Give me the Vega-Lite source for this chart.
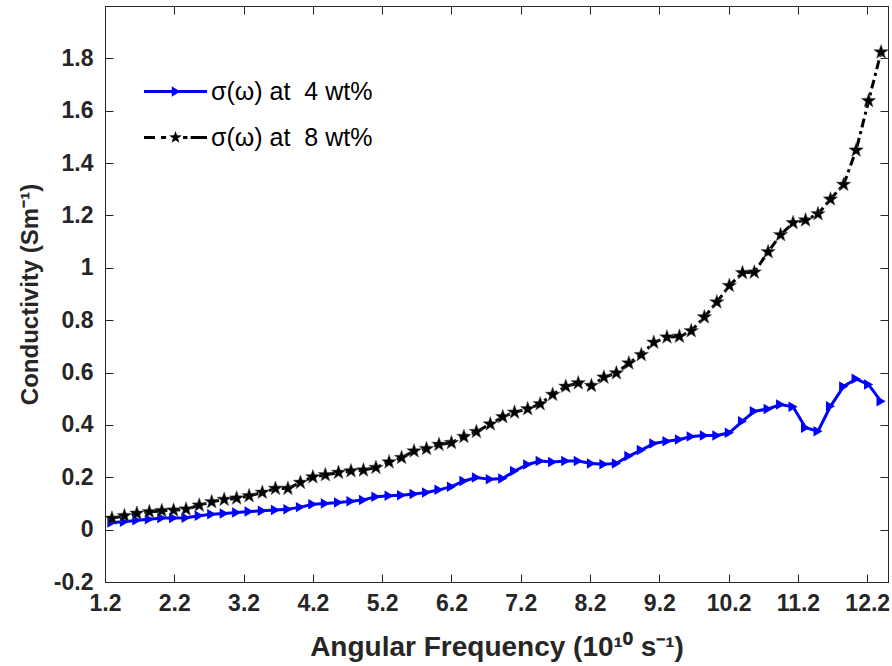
{
  "$schema": "https://vega.github.io/schema/vega-lite/v6.json",
  "autosize": "none",
  "width": 783,
  "height": 576,
  "padding": {"left": 105, "top": 6, "right": 4, "bottom": 84},
  "background": "white",
  "config": {
    "view": {"stroke": "#262626", "strokeWidth": 1},
    "axis": {
      "grid": false,
      "labelFont": "Liberation Sans",
      "labelFontWeight": "bold",
      "labelFontSize": 23,
      "labelColor": "#262626",
      "domainColor": "#262626",
      "tickColor": "#262626",
      "tickSize": -8,
      "labelFlush": false,
      "labelOverlap": false,
      "titleFont": "Liberation Sans",
      "titleFontWeight": "bold",
      "titleColor": "#262626"
    },
    "legend": {
      "orient": "none",
      "legendX": 38,
      "legendY": 53,
      "padding": 0,
      "rowPadding": 0,
      "symbolSize": 3969,
      "symbolOpacity": 1,
      "labelFont": "Liberation Sans",
      "labelFontSize": 25,
      "labelColor": "#000000",
      "labelOffset": 3,
      "labelLimit": 400
    }
  },
  "datasets": {
    "cond": [
      {"x": 1.30, "w4": 0.027, "w8": 0.043},
      {"x": 1.48, "w4": 0.030, "w8": 0.053},
      {"x": 1.66, "w4": 0.036, "w8": 0.062},
      {"x": 1.84, "w4": 0.040, "w8": 0.068},
      {"x": 2.02, "w4": 0.044, "w8": 0.072},
      {"x": 2.19, "w4": 0.044, "w8": 0.074},
      {"x": 2.37, "w4": 0.045, "w8": 0.078},
      {"x": 2.56, "w4": 0.053, "w8": 0.093},
      {"x": 2.74, "w4": 0.059, "w8": 0.106},
      {"x": 2.92, "w4": 0.062, "w8": 0.115},
      {"x": 3.10, "w4": 0.065, "w8": 0.120},
      {"x": 3.28, "w4": 0.069, "w8": 0.129},
      {"x": 3.47, "w4": 0.072, "w8": 0.142},
      {"x": 3.66, "w4": 0.075, "w8": 0.157},
      {"x": 3.84, "w4": 0.078, "w8": 0.157},
      {"x": 4.02, "w4": 0.086, "w8": 0.180},
      {"x": 4.20, "w4": 0.097, "w8": 0.201},
      {"x": 4.38, "w4": 0.100, "w8": 0.209},
      {"x": 4.57, "w4": 0.104, "w8": 0.218},
      {"x": 4.75, "w4": 0.108, "w8": 0.224},
      {"x": 4.93, "w4": 0.113, "w8": 0.227},
      {"x": 5.11, "w4": 0.126, "w8": 0.237},
      {"x": 5.30, "w4": 0.129, "w8": 0.258},
      {"x": 5.48, "w4": 0.131, "w8": 0.275},
      {"x": 5.66, "w4": 0.136, "w8": 0.300},
      {"x": 5.84, "w4": 0.142, "w8": 0.309},
      {"x": 6.02, "w4": 0.152, "w8": 0.325},
      {"x": 6.20, "w4": 0.164, "w8": 0.332},
      {"x": 6.38, "w4": 0.186, "w8": 0.355},
      {"x": 6.56, "w4": 0.199, "w8": 0.374},
      {"x": 6.76, "w4": 0.192, "w8": 0.403},
      {"x": 6.94, "w4": 0.195, "w8": 0.431},
      {"x": 7.11, "w4": 0.224, "w8": 0.448},
      {"x": 7.30, "w4": 0.249, "w8": 0.461},
      {"x": 7.48, "w4": 0.262, "w8": 0.480},
      {"x": 7.66, "w4": 0.258, "w8": 0.516},
      {"x": 7.85, "w4": 0.262, "w8": 0.547},
      {"x": 8.03, "w4": 0.262, "w8": 0.560},
      {"x": 8.22, "w4": 0.253, "w8": 0.550},
      {"x": 8.40, "w4": 0.250, "w8": 0.582},
      {"x": 8.58, "w4": 0.253, "w8": 0.598},
      {"x": 8.76, "w4": 0.281, "w8": 0.636},
      {"x": 8.94, "w4": 0.304, "w8": 0.668},
      {"x": 9.12, "w4": 0.329, "w8": 0.715},
      {"x": 9.31, "w4": 0.338, "w8": 0.735},
      {"x": 9.49, "w4": 0.344, "w8": 0.738},
      {"x": 9.66, "w4": 0.356, "w8": 0.759},
      {"x": 9.85, "w4": 0.360, "w8": 0.812},
      {"x": 10.03, "w4": 0.360, "w8": 0.869},
      {"x": 10.21, "w4": 0.370, "w8": 0.932},
      {"x": 10.40, "w4": 0.414, "w8": 0.981},
      {"x": 10.57, "w4": 0.452, "w8": 0.983},
      {"x": 10.77, "w4": 0.461, "w8": 1.061},
      {"x": 10.95, "w4": 0.478, "w8": 1.126},
      {"x": 11.13, "w4": 0.469, "w8": 1.172},
      {"x": 11.31, "w4": 0.389, "w8": 1.182},
      {"x": 11.49, "w4": 0.376, "w8": 1.206},
      {"x": 11.67, "w4": 0.471, "w8": 1.262},
      {"x": 11.86, "w4": 0.547, "w8": 1.318},
      {"x": 12.04, "w4": 0.576, "w8": 1.449},
      {"x": 12.22, "w4": 0.554, "w8": 1.638},
      {"x": 12.40, "w4": 0.490, "w8": 1.824}
    ],
    "series": [
      {"s": "σ(ω) at  4 wt%"},
      {"s": "σ(ω) at  8 wt%"}
    ]
  },
  "resolve": {"axis": {"x": "independent", "y": "independent"}},
  "layer": [
    {
      "data": {"name": "cond"},
      "mark": {"type": "line", "color": "#0000ff", "strokeWidth": 3},
      "encoding": {
        "x": {
          "field": "x", "type": "quantitative",
          "scale": {"domain": [1.2, 12.5], "nice": false, "zero": false},
          "axis": {
            "orient": "bottom",
            "values": [1.2, 2.2, 3.2, 4.2, 5.2, 6.2, 7.2, 8.2, 9.2, 10.2, 11.2, 12.2],
            "format": ".1f",
            "labelPadding": 18,
            "title": "Angular Frequency (10¹⁰ s⁻¹)",
            "titleFontSize": 28,
            "titlePadding": 18
          }
        },
        "y": {
          "field": "w4", "type": "quantitative",
          "scale": {"domain": [-0.2, 2.0], "nice": false, "zero": false},
          "axis": {
            "orient": "left",
            "values": [-0.2, 0, 0.2, 0.4, 0.6, 0.8, 1, 1.2, 1.4, 1.6, 1.8],
            "labelExpr": "'' + round(datum.value * 10) / 10",
            "labelPadding": 20,
            "title": "Conductivity  (Sm⁻¹)",
            "titleFontSize": 24,
            "titlePadding": 11
          }
        }
      }
    },
    {
      "data": {"name": "cond"},
      "mark": {"type": "point", "shape": "triangle-right", "filled": true, "color": "#0000ff", "size": 110, "opacity": 1},
      "encoding": {
        "x": {"field": "x", "type": "quantitative", "axis": null},
        "y": {"field": "w4", "type": "quantitative", "axis": null}
      }
    },
    {
      "data": {"name": "cond"},
      "mark": {"type": "line", "color": "#000000", "strokeWidth": 3, "strokeDash": [9, 4, 3, 4], "strokeCap": "butt"},
      "encoding": {
        "x": {
          "field": "x", "type": "quantitative",
          "axis": {
            "orient": "top",
            "values": [1.2, 2.2, 3.2, 4.2, 5.2, 6.2, 7.2, 8.2, 9.2, 10.2, 11.2, 12.2],
            "labels": false, "title": null
          }
        },
        "y": {
          "field": "w8", "type": "quantitative",
          "axis": {
            "orient": "right",
            "values": [-0.2, 0, 0.2, 0.4, 0.6, 0.8, 1, 1.2, 1.4, 1.6, 1.8],
            "labels": false, "title": null
          }
        }
      }
    },
    {
      "data": {"name": "cond"},
      "mark": {
        "type": "point",
        "shape": "M0,-1L0.2351,-0.3236L0.9511,-0.309L0.3804,0.1236L0.5878,0.809L0,0.4L-0.5878,0.809L-0.3804,0.1236L-0.9511,-0.309L-0.2351,-0.3236Z",
        "filled": true, "color": "#000000", "size": 230, "opacity": 1,
        "stroke": "#555555", "strokeWidth": 0.5
      },
      "encoding": {
        "x": {"field": "x", "type": "quantitative", "axis": null},
        "y": {"field": "w8", "type": "quantitative", "axis": null}
      }
    },
    {
      "data": {"name": "series"},
      "transform": [{"filter": "false"}],
      "mark": {"type": "point", "filled": true, "opacity": 1},
      "encoding": {
        "color": {
          "field": "s", "type": "nominal",
          "scale": {
            "domain": ["σ(ω) at  4 wt%", "σ(ω) at  8 wt%"],
            "range": ["#0000ff", "#000000"]
          },
          "legend": {"title": null, "labelExpr": "replace(datum.label, '  ', ' \u00a0')"}
        },
        "shape": {
          "field": "s", "type": "nominal",
          "scale": {
            "domain": ["σ(ω) at  4 wt%", "σ(ω) at  8 wt%"],
            "range": [
              "M-1,-0.048H1V0.048H-1ZM-0.12,-0.17L0.15,0L-0.12,0.17Z",
              "M-1,-0.048H-0.65V0.048H-1ZM-0.46,-0.048H-0.3V0.048H-0.46ZM0.24,-0.048H0.38V0.048H0.24ZM0.48,-0.048H1V0.048H0.48ZM0,-0.21L0.0494,-0.068L0.1997,-0.0649L0.0799,0.026L0.1234,0.1699L0,0.084L-0.1234,0.1699L-0.0799,0.026L-0.1997,-0.0649L-0.0494,-0.068Z"
            ]
          },
          "legend": {"title": null, "labelExpr": "replace(datum.label, '  ', ' \u00a0')"}
        }
      }
    }
  ]
}
